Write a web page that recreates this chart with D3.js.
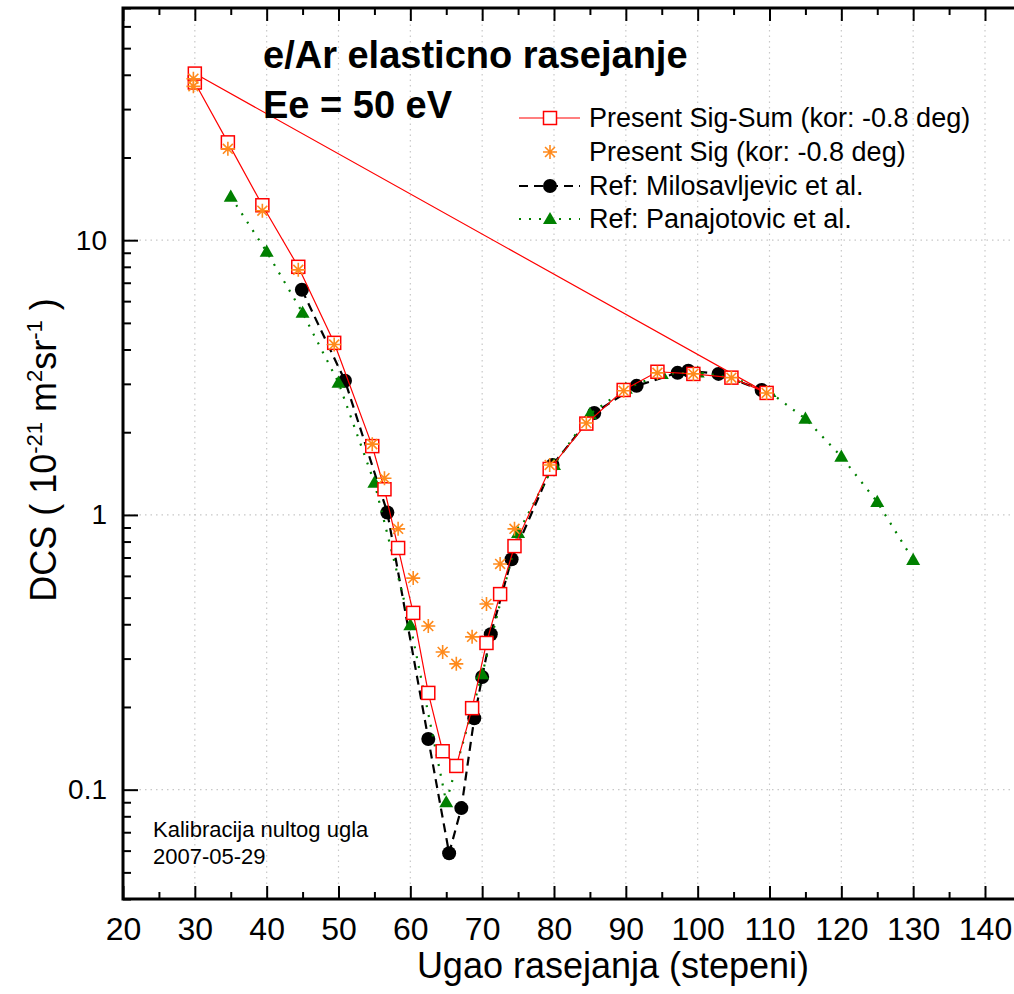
<!DOCTYPE html>
<html>
<head>
<meta charset="utf-8">
<script src="https://cdn.jsdelivr.net/npm/d3@7"></script>
<style>
  body { margin: 0; background: #fff; }
  svg { display: block; font-family: "Liberation Sans", Arial, sans-serif; }
</style>
</head>
<body>
<div id="chart"></div>
<script>
// e/Ar elastic DCS, 50 eV
const sigSumAngle = [30, 34.6, 39.4, 44.4, 49.4, 54.7, 56.4, 58.3, 60.4, 62.5, 64.5, 66.4, 68.6, 70.6, 72.5, 74.5, 79.4, 84.5, 89.7, 94.4, 99.4, 104.7, 109.6, 30]
const sigSumDcs = [37.5, 22.7, 13.4, 8.0, 4.23, 1.78, 1.24, 0.758, 0.44, 0.225, 0.138, 0.122, 0.198, 0.342, 0.515, 0.77, 1.47, 2.15, 2.85, 3.32, 3.26, 3.16, 2.78, 40.4]

const sigAngle = [29.8, 34.6, 39.4, 44.4, 49.4, 54.7, 56.4, 58.3, 60.4, 62.5, 64.5, 66.4, 68.6, 70.6, 72.5, 74.5, 79.4, 84.5, 89.7, 94.4, 99.4, 104.7, 109.6, 29.8]
const sigDcs = [36.3, 21.5, 12.8, 7.8, 4.17, 1.81, 1.36, 0.89, 0.589, 0.394, 0.317, 0.287, 0.36, 0.474, 0.663, 0.89, 1.52, 2.16, 2.83, 3.29, 3.26, 3.16, 2.78, 38.7]

const miloAngle = [44.9, 50.9, 56.8, 62.5, 65.4, 67.1, 68.9, 70.0, 71.2, 74.1, 79.8, 85.6, 91.5, 97.2, 98.7, 102.9, 108.9]
const miloDcs = [6.6, 3.08, 1.02, 0.153, 0.0587, 0.0857, 0.182, 0.257, 0.368, 0.69, 1.52, 2.35, 2.95, 3.29, 3.35, 3.26, 2.85]

const panaAngle = [35, 40, 45, 50, 55, 60, 65, 70, 75, 80, 85, 90, 95, 100, 105, 110, 115, 120, 125, 130]
const panaDcs = [14.4, 9.08, 5.44, 3.03, 1.31, 0.397, 0.090, 0.263, 0.86, 1.52, 2.33, 2.88, 3.26, 3.3, 3.15, 2.8, 2.24, 1.63, 1.115, 0.686]

const xTicks = [20, 30, 40, 50, 60, 70, 80, 90, 100, 110, 120, 130, 140]
const yTicks = [0.1, 1, 10]
const yTickLabels = ["0.1", "1", "10"]

const legendLabels = [
  "Present Sig-Sum (kor: -0.8 deg)",
  "Present Sig (kor: -0.8 deg)",
  "Ref: Milosavljevic et al.",
  "Ref: Panajotovic et al."
]

const chartW = 1014, chartH = 994
const plotL = 123, plotT = 8, plotB = 899

const svg = d3.select("#chart").append("svg")
  .attr("width", chartW).attr("height", chartH)

const x = d3.scaleLinear().domain([20, 145]).range([plotL, plotL + (145 - 20) * (985 - plotL) / 120])
const y = d3.scaleLog().domain([0.04, 70]).range([plotB, plotT])

// grid
const grid = svg.append("g").attr("stroke", "#c8c8c8").attr("stroke-dasharray", "1.5,4").attr("stroke-width", 1.2)
xTicks.filter(d => d > 20).forEach(d => {
  grid.append("line").attr("x1", x(d)).attr("x2", x(d)).attr("y1", plotT).attr("y2", plotB)
})
yTicks.forEach(d => {
  grid.append("line").attr("x1", plotL).attr("x2", chartW).attr("y1", y(d)).attr("y2", y(d))
})

// axes
const xMinor = d3.range(25, 145, 10)
const yMinor = []
;[0.01, 0.1, 1, 10].forEach(dec => {
  for (let k = 2; k <= 9; k++) {
    const v = dec * k
    if (v >= 0.04 && v <= 70) yMinor.push(v)
  }
})

svg.append("g").attr("transform", `translate(0,${plotB})`)
  .call(d3.axisBottom(x).tickValues(xTicks).tickSize(-13).tickFormat(d3.format("d")))
  .call(g => g.select(".domain").remove())
  .call(g => g.selectAll(".tick line").attr("stroke-width", 2))
  .call(g => g.selectAll("text").attr("y", 41).attr("dy", null).attr("font-size", 32).attr("fill", "#000")
    .attr("font-family", "Liberation Sans, Arial, sans-serif"))

svg.append("g").attr("transform", `translate(0,${plotB})`)
  .call(d3.axisBottom(x).tickValues(xMinor).tickSize(-7).tickFormat(""))
  .call(g => g.select(".domain").remove())
  .call(g => g.selectAll(".tick line").attr("stroke-width", 2))

svg.append("g").attr("transform", `translate(0,${plotT})`)
  .call(d3.axisTop(x).tickValues(xTicks).tickSize(-13).tickFormat(""))
  .call(g => g.select(".domain").remove())
  .call(g => g.selectAll(".tick line").attr("stroke-width", 2))
svg.append("g").attr("transform", `translate(0,${plotT})`)
  .call(d3.axisTop(x).tickValues(xMinor).tickSize(-7).tickFormat(""))
  .call(g => g.select(".domain").remove())
  .call(g => g.selectAll(".tick line").attr("stroke-width", 2))

svg.append("g").attr("transform", `translate(${plotL},0)`)
  .call(d3.axisLeft(y).tickValues(yTicks).tickSize(-15).tickFormat((d, i) => yTickLabels[i]))
  .call(g => g.select(".domain").remove())
  .call(g => g.selectAll(".tick line").attr("stroke-width", 2))
  .call(g => g.selectAll("text").attr("x", -16).attr("font-size", 28).attr("fill", "#000")
    .attr("font-family", "Liberation Sans, Arial, sans-serif"))

svg.append("g").attr("transform", `translate(${plotL},0)`)
  .call(d3.axisLeft(y).tickValues(yMinor).tickSize(-8).tickFormat(""))
  .call(g => g.select(".domain").remove())
  .call(g => g.selectAll(".tick line").attr("stroke-width", 2))

// frame
svg.append("path")
  .attr("d", `M${chartW + 5},${plotT}H${plotL}V${plotB}H${chartW + 5}`)
  .attr("fill", "none").attr("stroke", "#000").attr("stroke-width", 3)

// symbols
function square(g, cx, cy) {
  g.append("rect").attr("x", cx - 6.5).attr("y", cy - 6.5).attr("width", 13).attr("height", 13)
    .attr("fill", "#fff").attr("stroke", "#ff0000").attr("stroke-width", 1.5)
}
function asterisk(g, cx, cy) {
  const r = 7
  const p = d3.path()
  for (let a = 0; a < 4; a++) {
    const t = a * Math.PI / 4
    p.moveTo(cx - r * Math.cos(t), cy - r * Math.sin(t))
    p.lineTo(cx + r * Math.cos(t), cy + r * Math.sin(t))
  }
  g.append("path").attr("d", p.toString()).attr("stroke", "#ff8a1c").attr("stroke-width", 1.6).attr("fill", "none")
}
function circle(g, cx, cy) {
  g.append("circle").attr("cx", cx).attr("cy", cy).attr("r", 7).attr("fill", "#000")
}
function triangle(g, cx, cy) {
  g.append("path").attr("d", d3.symbol(d3.symbolTriangle, 85)()).attr("transform", `translate(${cx},${cy + 1})`)
    .attr("fill", "#008000")
}

const line = d3.line().x(d => x(d[0])).y(d => y(d[1]))
const plot = svg.append("g")

// Milosavljevic
const miloPts = miloAngle.map((a, i) => [a, miloDcs[i]])
plot.append("path").attr("d", line(miloPts)).attr("fill", "none").attr("stroke", "#000")
  .attr("stroke-width", 2.2).attr("stroke-dasharray", "9,6")
miloPts.forEach(d => circle(plot, x(d[0]), y(d[1])))

// Panajotovic
const panaPts = panaAngle.map((a, i) => [a, panaDcs[i]])
plot.append("path").attr("d", line(panaPts)).attr("fill", "none").attr("stroke", "#008000")
  .attr("stroke-width", 2.2).attr("stroke-dasharray", "2,8")
panaPts.forEach(d => triangle(plot, x(d[0]), y(d[1])))

// Present Sig-Sum
const sumPts = sigSumAngle.map((a, i) => [a, sigSumDcs[i]])
plot.append("path").attr("d", line(sumPts)).attr("fill", "none").attr("stroke", "#ff0000").attr("stroke-width", 1.2)
sumPts.forEach(d => square(plot, x(d[0]), y(d[1])))

// Present Sig
sigAngle.forEach((a, i) => asterisk(plot, x(a), y(sigDcs[i])))

// titles
svg.append("text").attr("x", 263).attr("y", 68).attr("font-size", 38).attr("font-weight", "bold")
  .text("e/Ar elasticno rasejanje")
svg.append("text").attr("x", 263).attr("y", 118).attr("font-size", 38).attr("font-weight", "bold")
  .text("Ee = 50 eV")

svg.append("text").attr("x", 153).attr("y", 837).attr("font-size", 22).text("Kalibracija nultog ugla")
svg.append("text").attr("x", 153).attr("y", 864).attr("font-size", 22).text("2007-05-29")

// axis titles
svg.append("text").attr("x", 613).attr("y", 978).attr("text-anchor", "middle")
  .attr("font-size", 36).text("Ugao rasejanja (stepeni)")

const yl = svg.append("text").attr("transform", "translate(56,450) rotate(-90)").attr("text-anchor", "middle")
  .attr("font-size", 36)
yl.append("tspan").text("DCS ( 10")
yl.append("tspan").attr("dy", -14).attr("font-size", 22).text("-21")
yl.append("tspan").attr("dy", 14).text(" m")
yl.append("tspan").attr("dy", -14).attr("font-size", 22).text("2")
yl.append("tspan").attr("dy", 14).text("sr")
yl.append("tspan").attr("dy", -14).attr("font-size", 22).text("-1")
yl.append("tspan").attr("dy", 14).text(" )")

// legend
const legY = [118, 152, 186, 219]
const lg = svg.append("g")
lg.append("line").attr("x1", 519).attr("x2", 580).attr("y1", legY[0]).attr("y2", legY[0]).attr("stroke", "#ff0000").attr("stroke-width", 1.2)
square(lg, 550, legY[0])
asterisk(lg, 550, legY[1])
lg.append("line").attr("x1", 519).attr("x2", 580).attr("y1", legY[2]).attr("y2", legY[2]).attr("stroke", "#000").attr("stroke-width", 2.2).attr("stroke-dasharray", "9,6")
circle(lg, 550, legY[2])
lg.append("line").attr("x1", 519).attr("x2", 580).attr("y1", legY[3]).attr("y2", legY[3]).attr("stroke", "#008000").attr("stroke-width", 2.2).attr("stroke-dasharray", "2,8")
triangle(lg, 550, legY[3])
legendLabels.forEach((t, i) => {
  lg.append("text").attr("x", 589).attr("y", legY[i] + 9).attr("font-size", 27).text(t)
})
</script>
</body>
</html>
